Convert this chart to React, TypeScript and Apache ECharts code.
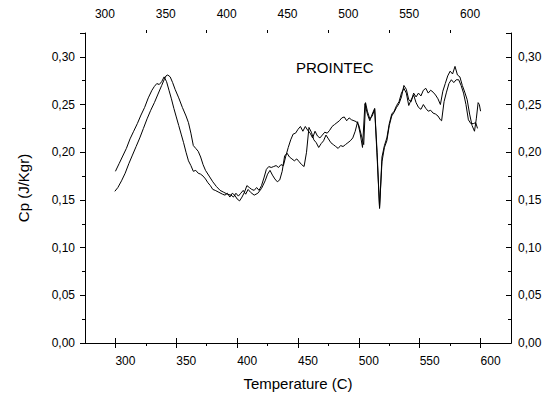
import React, { useEffect, useRef } from "react";
import * as echarts from "echarts";

const majorX = [300, 350, 400, 450, 500, 550, 600];
const minorX = [325, 375, 425, 475, 525, 575];

const seriesA: [number, number][] = [
  [299.5,0.159],[302,0.163],[305,0.170],[308,0.178],[311,0.188],[314,0.197],[317,0.206],[320,0.215],[323,0.225],[326,0.235],[329,0.244],[332,0.252],[335,0.261],[338,0.270],[340,0.276],[341.5,0.280],[343,0.281],[345,0.279],[347,0.273],[349,0.266],[352,0.257],[355,0.247],[358,0.238],[360,0.231],[362,0.220],[364,0.207],[366,0.204],[368,0.201],[370,0.195],[372,0.187],[374,0.181],[377,0.175],[380,0.169],[383,0.164],[386,0.160],[389,0.158],[392,0.156],[395,0.155],[397,0.153],[399,0.157],[401,0.154],[403,0.157],[405,0.160],[407,0.156],[409,0.161],[411,0.158],[414,0.155],[417,0.157],[420,0.162],[423,0.170],[425,0.177],[427,0.181],[429,0.176],[431,0.172],[433,0.169],[435,0.171],[437,0.180],[439,0.196],[441,0.199],[443,0.195],[445,0.193],[447,0.191],[449,0.193],[451,0.190],[453,0.187],[455,0.185],[457,0.200],[459,0.226],[461,0.221],[463,0.213],[465,0.210],[467,0.205],[469,0.209],[471,0.212],[473,0.218],[475,0.214],[477,0.210],[479,0.208],[481,0.206],[483,0.204],[485,0.207],[487,0.206],[489,0.208],[491,0.210],[493,0.212],[495,0.215],[497,0.222],[499,0.232],[501,0.220],[503,0.205],[505,0.251],[507,0.240],[509,0.233],[511,0.240],[513,0.246],[515,0.200],[517,0.141],[519,0.195],[521,0.207],[523,0.215],[525,0.230],[527,0.240],[529,0.243],[531,0.249],[533,0.253],[535,0.262],[537,0.267],[539,0.262],[541,0.249],[543,0.255],[545,0.260],[547,0.252],[549,0.247],[551,0.245],[553,0.250],[555,0.246],[557,0.243],[559,0.244],[561,0.241],[563,0.240],[565,0.238],[567,0.234],[568,0.233],[570,0.253],[572,0.263],[574,0.272],[576,0.276],[578,0.273],[580,0.276],[582,0.276],[584,0.270],[586,0.262],[588,0.250],[590,0.234],[592,0.230],[594,0.230],[596,0.231],[597.5,0.225]
];

const seriesB: [number, number][] = [
  [300,0.180],[303,0.188],[306,0.196],[309,0.204],[312,0.214],[315,0.222],[318,0.230],[321,0.239],[324,0.247],[327,0.257],[330,0.265],[332,0.269],[334,0.272],[336,0.271],[338,0.274],[340,0.279],[342,0.274],[344,0.265],[346,0.256],[348,0.246],[350,0.237],[352,0.228],[354,0.219],[356,0.210],[358,0.200],[360,0.191],[362,0.186],[364,0.180],[366,0.181],[368,0.178],[370,0.177],[372,0.175],[374,0.172],[376,0.168],[378,0.165],[380,0.161],[382,0.160],[385,0.158],[388,0.156],[390,0.155],[392,0.157],[394,0.153],[396,0.157],[398,0.155],[400,0.151],[402,0.149],[404,0.153],[406,0.158],[408,0.165],[410,0.163],[412,0.161],[414,0.160],[416,0.163],[418,0.160],[420,0.165],[422,0.173],[424,0.182],[426,0.185],[428,0.184],[430,0.185],[432,0.186],[434,0.184],[436,0.187],[438,0.186],[440,0.196],[442,0.205],[444,0.213],[446,0.219],[448,0.220],[450,0.224],[452,0.227],[454,0.222],[456,0.227],[458,0.223],[460,0.220],[462,0.215],[464,0.222],[466,0.217],[468,0.215],[470,0.218],[472,0.221],[474,0.220],[476,0.223],[478,0.227],[480,0.229],[482,0.231],[484,0.233],[486,0.236],[488,0.237],[490,0.233],[492,0.236],[494,0.234],[496,0.233],[498,0.232],[500,0.228],[502,0.218],[504,0.208],[505.5,0.252],[507,0.243],[509,0.235],[511,0.238],[513,0.245],[515,0.195],[517,0.142],[519,0.190],[521,0.205],[523,0.212],[525,0.228],[527,0.238],[529,0.242],[531,0.247],[533,0.251],[535,0.258],[537,0.270],[539,0.266],[541,0.255],[543,0.253],[545,0.262],[547,0.258],[549,0.262],[551,0.259],[553,0.265],[555,0.267],[557,0.262],[559,0.265],[561,0.263],[563,0.260],[565,0.256],[567,0.250],[569,0.264],[571,0.272],[573,0.280],[575,0.285],[577,0.282],[579,0.290],[581,0.281],[583,0.279],[585,0.270],[587,0.263],[589,0.255],[591,0.240],[593,0.228],[595,0.222],[596.5,0.235],[598,0.252],[599,0.250],[600,0.243]
];

const FONT = "Liberation Sans, Arial, sans-serif";
const X_MIN = 275;
const X_MAX = 625;
const Y_MIN = 0;
const Y_MAX = 0.325;

export default function App() {
  const ref = useRef<HTMLDivElement>(null);
  useEffect(() => {
    if (!ref.current) return;
    const chart = echarts.init(ref.current, undefined, { renderer: "svg" });
    const line = { show: true, lineStyle: { color: "#000", width: 1 } };
    const baseX = {
      type: "value" as const,
      min: X_MIN,
      max: X_MAX,
      splitLine: { show: false },
      axisLine: line,
    };
    const fmt = (v: number) => v.toFixed(2).replace(".", ",");
    chart.setOption({
      animation: false,
      backgroundColor: "#fff",
      grid: { left: 85, right: 44, top: 33, bottom: 51, containLabel: false },
      xAxis: [
        {
          ...baseX,
          position: "bottom",
          axisTick: { show: true, length: 5, customValues: majorX, lineStyle: { color: "#000" } },
          axisLabel: {
            customValues: majorX,
            color: "#000",
            fontSize: 12,
            fontFamily: FONT,
            margin: 12,
            padding: [0, 0, 0, 20],
          },
          name: "Temperature (C)",
          nameLocation: "middle",
          nameGap: 33,
          nameTextStyle: { color: "#000", fontSize: 15, fontFamily: FONT },
        },
        {
          ...baseX,
          position: "top",
          axisTick: { show: true, length: 5, customValues: majorX, lineStyle: { color: "#000" } },
          axisLabel: {
            customValues: majorX,
            color: "#000",
            fontSize: 12,
            fontFamily: FONT,
            margin: 13,
            padding: [0, 21, 0, 0],
          },
        },
        {
          ...baseX,
          position: "bottom",
          axisLine: { show: false },
          axisTick: { show: true, length: 3, customValues: minorX, lineStyle: { color: "#000" } },
          axisLabel: { show: false },
        },
        {
          ...baseX,
          position: "top",
          axisLine: { show: false },
          axisTick: { show: true, length: 3, customValues: minorX, lineStyle: { color: "#000" } },
          axisLabel: { show: false },
        },
      ],
      yAxis: [
        {
          type: "value",
          position: "left",
          min: Y_MIN,
          max: Y_MAX,
          interval: 0.05,
          splitLine: { show: false },
          axisLine: line,
          axisTick: { show: true, length: 5, lineStyle: { color: "#000" } },
          minorTick: { show: true, splitNumber: 2, length: 3, lineStyle: { color: "#000" } },
          axisLabel: { color: "#000", fontSize: 12, fontFamily: FONT, margin: 10, formatter: fmt, showMaxLabel: false },
          name: "Cp (J/Kgr)",
          nameLocation: "middle",
          nameGap: 54,
          nameTextStyle: { color: "#000", fontSize: 15, fontFamily: FONT },
        },
        {
          type: "value",
          position: "right",
          min: Y_MIN,
          max: Y_MAX,
          interval: 0.05,
          splitLine: { show: false },
          axisLine: line,
          axisTick: { show: true, inside: true, length: 5, lineStyle: { color: "#000" } },
          minorTick: { show: true, splitNumber: 2, length: 3, lineStyle: { color: "#000" } },
          axisLabel: { color: "#000", fontSize: 12, fontFamily: FONT, margin: 7, formatter: fmt, showMaxLabel: false },
        },
      ],
      graphic: [
        {
          type: "text",
          left: 296,
          top: 60,
          style: { text: "PROINTEC", fill: "#000", fontSize: 15, fontFamily: FONT },
        },
      ],
      series: [
        {
          type: "line",
          data: seriesA,
          xAxisIndex: 0,
          yAxisIndex: 0,
          showSymbol: false,
          symbol: "none",
          lineStyle: { color: "#000", width: 1 },
        },
        {
          type: "line",
          data: seriesB,
          xAxisIndex: 0,
          yAxisIndex: 0,
          showSymbol: false,
          symbol: "none",
          lineStyle: { color: "#000", width: 1 },
        },
      ],
    });
    return () => chart.dispose();
  }, []);
  return (
    <div
      ref={ref}
      style={{ position: "fixed", left: 0, top: 0, width: 555, height: 396 }}
    />
  );
}
